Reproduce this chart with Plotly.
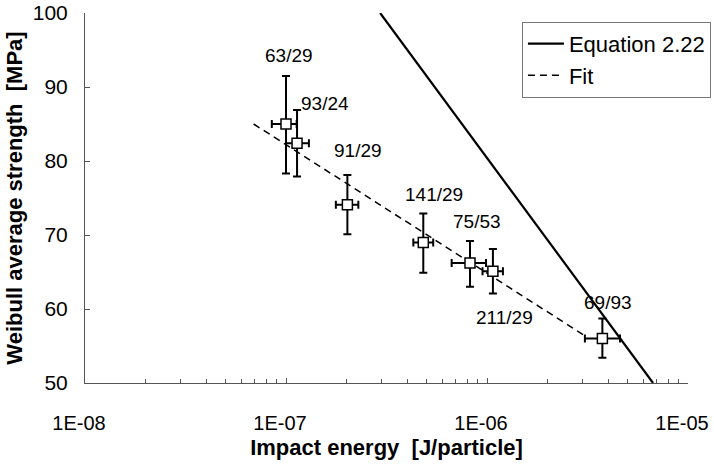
import math
import plotly.graph_objects as go

# Measured impact energy per particle [J] and Weibull average strength [MPa]
energy = [1.00e-7, 1.135e-7, 2.02e-7, 4.82e-7, 8.23e-7, 1.07e-6, 3.75e-6]
energy_low = [8.5e-8, 1.00e-7, 1.77e-7, 4.30e-7, 6.67e-7, 9.5e-7, 3.07e-6]
energy_high = [1.13e-7, 1.30e-7, 2.29e-7, 5.40e-7, 9.89e-7, 1.20e-6, 4.59e-6]
strength = [85.0, 82.4, 74.1, 69.0, 66.2, 65.1, 56.0]
strength_low = [78.3, 77.9, 70.1, 64.9, 63.0, 62.1, 53.4]
strength_high = [91.5, 86.9, 78.1, 72.9, 69.2, 68.1, 58.7]
point_labels = ["63/29", "93/24", "91/29", "141/29", "75/53", "211/29", "69/93"]

# Equation 2.22 prediction and the log-linear fit through the data
eq_energy = [2.94e-7, 6.7e-6]
eq_strength = [100.0, 50.0]
fit_energy = [6.9e-8, 3.1e-6]
fit_strength = [85.0, 56.3]

# Axis ticks
x_tickvals = [1e-8, 1e-7, 1e-6, 1e-5]
x_ticktext = ["1E-08", "1E-07", "1E-06", "1E-05"]
y_tickvals = [50, 60, 70, 80, 90, 100]

# Pixel offsets of each point label from its marker
label_shift = [(3, 69), (28, 40), (11, 54), (11, 48), (7, 42), (12, -46), (6, 36)]

FONT = "Liberation Sans, Arial, Helvetica, sans-serif"
AXIS_COLOR = "#555555"

fig = go.Figure()

fig.add_trace(go.Scatter(
    x=eq_energy, y=eq_strength, mode="lines", name="Equation 2.22",
    line=dict(color="black", width=2.2),
))
fig.add_trace(go.Scatter(
    x=fit_energy, y=fit_strength, mode="lines", name="Fit",
    line=dict(color="black", width=1.5, dash="7px,5px"),
))
fig.add_trace(go.Scatter(
    x=energy, y=strength, mode="markers", showlegend=False,
    marker=dict(symbol="square", size=10, color="white",
                line=dict(color="black", width=1.5)),
    error_x=dict(type="data", symmetric=False,
                 array=[h - e for h, e in zip(energy_high, energy)],
                 arrayminus=[e - l for e, l in zip(energy, energy_low)],
                 color="black", thickness=2, width=4),
    error_y=dict(type="data", symmetric=False,
                 array=[h - s for h, s in zip(strength_high, strength)],
                 arrayminus=[s - l for s, l in zip(strength, strength_low)],
                 color="black", thickness=2, width=4),
))

for e, s, txt, (dx, dy) in zip(energy, strength, point_labels, label_shift):
    fig.add_annotation(
        x=math.log10(e), y=s, text=txt, showarrow=False,
        xshift=dx, yshift=dy, font=dict(family=FONT, size=19, color="black"),
    )

fig.update_layout(
    width=714, height=465,
    margin=dict(l=85, r=26, t=13, b=82, autoexpand=False),
    paper_bgcolor="white", plot_bgcolor="white",
    font=dict(family=FONT, color="black"),
    showlegend=True,
    legend=dict(
        xref="container", yref="container",
        x=0.731, y=0.953, xanchor="left", yanchor="top",
        bgcolor="white", bordercolor="#777777", borderwidth=1,
        font=dict(family=FONT, size=22, color="black"),
        tracegroupgap=0, itemwidth=36,
    ),
)

fig.update_xaxes(
    type="log", range=[-8, -5], automargin=False,
    tickmode="array", tickvals=x_tickvals, ticktext=x_ticktext,
    tickfont=dict(family=FONT, size=20, color="black"),
    ticks="inside", ticklen=5, tickcolor=AXIS_COLOR,
    ticklabelstandoff=22, ticklabeloverflow="allow", ticklabelshift=-6,
    minor=dict(ticks="inside", ticklen=4, tickcolor=AXIS_COLOR, dtick="D1", showgrid=False),
    showline=True, linecolor=AXIS_COLOR, linewidth=1,
    showgrid=False, zeroline=False,
    title=dict(text="<b>Impact energy  [J/particle]</b>",
               font=dict(family=FONT, size=22, color="black"), standoff=6),
)
fig.update_yaxes(
    range=[50, 100], tickmode="array", tickvals=y_tickvals, automargin=False,
    tickfont=dict(family=FONT, size=21, color="black"),
    ticks="inside", ticklen=5, tickcolor=AXIS_COLOR,
    ticklabelstandoff=12, ticklabeloverflow="allow",
    showline=True, linecolor=AXIS_COLOR, linewidth=1,
    showgrid=False, zeroline=False,
    title=dict(text="<b>Weibull average strength  [MPa]</b>",
               font=dict(family=FONT, size=22, color="black"), standoff=4),
)

fig.write_html("out.html")
